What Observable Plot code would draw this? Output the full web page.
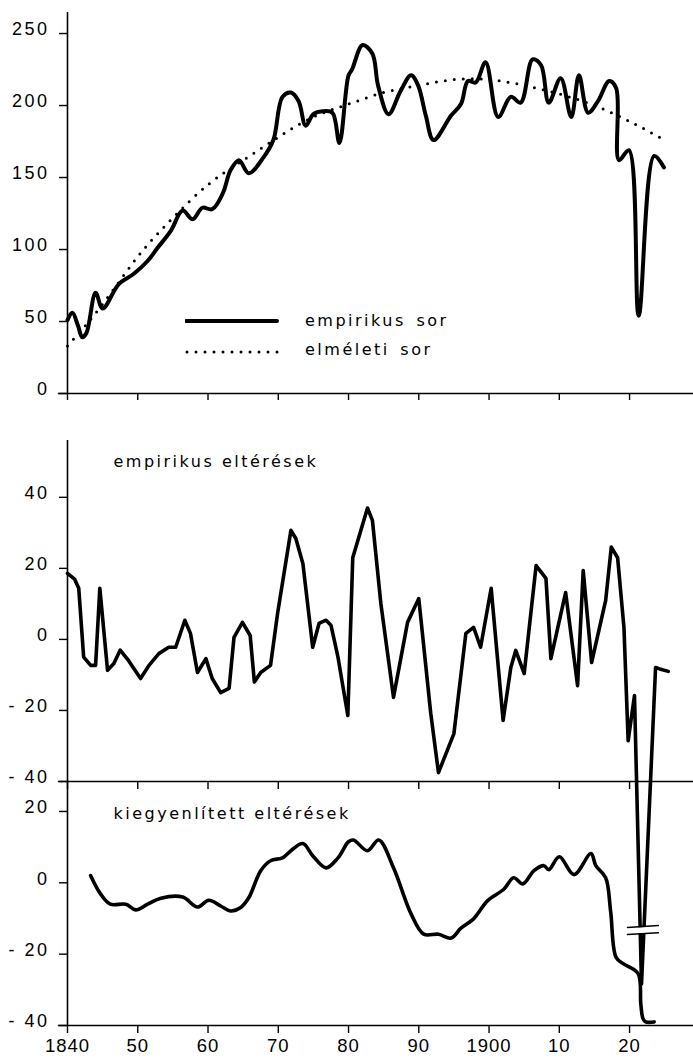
<!DOCTYPE html>
<html><head><meta charset="utf-8">
<script src="https://cdn.jsdelivr.net/npm/d3@7"></script>
<script src="https://cdn.jsdelivr.net/npm/@observablehq/plot@0.6"></script>
<style>
html,body{margin:0;padding:0;background:#fff;}
#wrap{position:relative;width:693px;height:1059px;overflow:hidden;}
#wrap > svg.panel{position:absolute;left:0;top:0;}
#wrap svg text{letter-spacing:2.5px;}
#wrap g[aria-label="x-axis tick label"] text{letter-spacing:1px;}
#wrap g[aria-label="panel title"] text{letter-spacing:3.3px;word-spacing:3px;}
#wrap > svg#legend{position:absolute;left:185px;top:310px;}
#legend text{font-family:"DejaVu Sans",sans-serif;font-size:16px;letter-spacing:3.3px;word-spacing:3px;}
</style>
</head><body><div id="wrap"></div>
<script>
// ---- data ----
const empYears = [1840.0,1840.7,1841.5,1842.1,1842.7,1844.0,1845.0,1847.3,1849.4,1851.4,1852.8,1854.7,1856.4,1857.8,1859.2,1860.6,1862.1,1863.2,1864.4,1865.8,1867.9,1869.3,1870.6,1871.8,1872.9,1873.9,1875.0,1876.3,1877.7,1878.7,1880.0,1880.5,1882.0,1883.4,1884.2,1885.7,1887.4,1888.9,1889.9,1891.0,1892.1,1894.6,1896.0,1897.0,1898.1,1899.5,1901.3,1903.1,1904.5,1906.2,1907.4,1908.5,1910.2,1911.7,1912.8,1914.1,1915.5,1917.1,1918.1,1918.5,1919.9,1921.3,1923.5,1924.9];
const empVals  = [51,56,47,39,42,70,59,76,83,92,101,113,127,121,129,128,139,155,162,153,164,176,206,209,203,186,194,196,195,174,221,225,242,236,214,194,210,221,214,193,176,193,201,217,216,230,192,206,202,232,228,202,219,192,221,195,203,217,212,162,169,54,165,157];

const trendYears = [1840,1845,1850,1855,1860,1865,1870,1875,1880,1885,1890,1895,1900,1905,1910,1915,1920,1925];
const trendVals  = [33,62,95,122,145,162,178,192,201,209,214,218,218,214,208,200,189,176];

const devYears = [1840.0,1841.0,1841.6,1842.3,1843.3,1844.0,1844.6,1845.7,1846.6,1847.5,1848.7,1850.4,1851.6,1853.0,1854.4,1855.4,1856.7,1857.5,1858.5,1859.7,1860.6,1861.8,1863.0,1863.7,1864.9,1866.0,1866.6,1867.5,1868.9,1869.9,1871.8,1872.5,1873.5,1874.9,1875.8,1876.8,1877.5,1878.5,1879.9,1880.6,1882.7,1883.4,1884.6,1886.4,1888.4,1890.0,1891.7,1892.8,1895.0,1896.7,1897.8,1898.8,1900.3,1902.0,1903.1,1903.8,1905.0,1906.7,1908.1,1908.8,1910.9,1912.6,1913.4,1914.6,1916.6,1917.4,1918.3,1919.2,1919.8,1920.7,1921.7,1923.7,1924.3,1925.5];
const devVals  = [18.6,17,14.4,-5,-7.3,-7.3,14.4,-8.7,-6.8,-3,-6,-11,-7.3,-4,-2.2,-2.2,5.4,1.7,-9.3,-5.4,-11,-15,-13.8,0.6,4.8,1.1,-12,-9.3,-7.3,7.3,30.7,28.4,21.4,-2.2,4.5,5.4,4,-5,-21.4,23,37,33.5,10.1,-16.3,4.8,11.5,-20.8,-37.5,-26.5,1.7,3.4,-2.2,14.4,-22.8,-7.9,-3.1,-9.6,20.8,17.2,-5.4,13.2,-13,19.4,-6.5,11,26,23,3.4,-28.5,-15.8,-97,-7.9,-8.3,-9];

const smYears = [1843.3,1844.7,1846.1,1848.3,1849.7,1851.4,1853.3,1856.4,1858.5,1860.1,1861.8,1863.2,1864.6,1865.8,1867.5,1868.9,1870.6,1871.8,1873.5,1874.9,1876.8,1878.5,1880.0,1880.7,1882.7,1884.3,1886.4,1888.9,1890.7,1892.8,1894.6,1896.0,1897.8,1899.8,1902.1,1903.5,1904.8,1906.4,1907.8,1908.5,1910.0,1912.1,1914.5,1915.2,1916.6,1917.3,1918.1,1919.2,1921.2,1921.6,1921.9,1922.3,1923.5];
const smVals  = [2,-3.1,-6,-6,-7.6,-6,-4.3,-4,-6.8,-4.9,-6.5,-7.9,-7,-4.2,3.4,6.2,7,9,11,7.6,4.2,7,11.5,12,9,12,4.2,-8.7,-14.4,-14.4,-15.5,-12.7,-10.1,-5,-1.8,1.4,-0.3,3.4,4.8,3.7,7.3,2.3,8.2,4.8,1.4,-7.9,-21,-22.8,-25.4,-34,-38,-39,-39];

const breakX = [1919.7, 1924.1];
const breakUpper = [-12.5, -12.0];
const breakLower = [-14.5, -14.0];

const xTicks = [1840,1850,1860,1870,1880,1890,1900,1910,1920];
const xTickLabels = ["1840","50","60","70","80","90","1900","10","20"];
const yTicksTop = [0,50,100,150,200,250];
const yLabelsTop = ["0","50","100","150","200","250"];
const yTicksMid = [-40,-20,0,20,40];
const yLabelsMid = ["- 40","- 20","0","20","40"];
const yTicksBot = [-40,-20,0,20];
const yLabelsBot = ["- 40","- 20","0","20"];

const legendLabels = ["empirikus sor","elméleti sor"];
const titleMid = "empirikus eltérések";
const titleBot = "kiegyenlített eltérések";

// ---- build ----
const zip = (xs, ys) => xs.map((x, i) => ({x, y: ys[i]}));
const emp = zip(empYears, empVals), trend = zip(trendYears, trendVals);
const dev = zip(devYears, devVals), sm = zip(smYears, smVals);
const brU = zip(breakX, breakUpper), brL = zip(breakX, breakLower);
const brM = zip(breakX, breakUpper.map((v, i) => (v + breakLower[i]) / 2));
const fmt = (ticks, labels) => { const m = new Map(ticks.map((t, i) => [t, labels[i]])); return d => m.get(d); };

const W = 693, H = 1059, xDomain = [1840, 1929.1], xAxisStart = 1838.7;
const topDomain = [0, 264.6], midDomain = [-40, 56], botDomain = [-40, 28.4];

function panel(marginTop, marginBottom, yDomain, marks) {
  return Plot.plot({
    width: W, height: H, marginLeft: 67, marginRight: 0, marginTop, marginBottom,
    className: "panel",
    x: {domain: xDomain, axis: null}, y: {domain: yDomain, axis: null},
    style: {background: "transparent", overflow: "visible", fontFamily: "Liberation Sans, Arial, sans-serif", fontSize: "18px", color: "#000"},
    marks
  });
}
function yAxis(ticks, labels) {
  return [
    Plot.axisY({ticks, tickSize: 8, fill: "none", strokeWidth: 1.4, label: null}),
    Plot.axisY({ticks, tickSize: 8, tickPadding: 10, stroke: "none", dy: -4, fontSize: 18, tickFormat: fmt(ticks, labels), label: null})
  ];
}
function frameLines(yDomain) {
  return [
    Plot.ruleY([yDomain[0]], {x1: xAxisStart, x2: xDomain[1], strokeWidth: 1.6}),
    Plot.ruleX([xDomain[0]], {y1: yDomain[0], y2: yDomain[1], strokeWidth: 1.6})
  ];
}
const lineStyle = {strokeWidth: 3.6, strokeLinejoin: "round", strokeLinecap: "round"};

const panelTop = panel(12, H - 393, topDomain, [
  ...frameLines(topDomain),
  ...yAxis(yTicksTop, yLabelsTop),
  Plot.axisX({ticks: xTicks, tickSize: 7, fill: "none", strokeWidth: 1.4, label: null}),
  Plot.line(trend, {x: "x", y: "y", curve: "natural", strokeWidth: 3, strokeDasharray: "0 9", strokeLinecap: "round"}),
  Plot.line(emp, {x: "x", y: "y", curve: "catmull-rom", ...lineStyle, strokeWidth: 4})
]);

const panelMid = panel(440, H - 781, midDomain, [
  ...frameLines(midDomain),
  ...yAxis(yTicksMid, yLabelsMid),
  Plot.axisX({ticks: xTicks, tickSize: 8, fill: "none", strokeWidth: 1.4, label: null}),
  Plot.text([titleMid], {frameAnchor: "top-left", text: d => d, dx: 46, dy: 21, textAnchor: "start", lineAnchor: "middle", fontFamily: "DejaVu Sans, sans-serif", fontSize: 16, ariaLabel: "panel title"}),
  Plot.line(dev, {x: "x", y: "y", curve: "linear", ...lineStyle})
]);

const panelBot = panel(781, H - 1025, botDomain, [
  ...frameLines(botDomain),
  ...yAxis(yTicksBot, yLabelsBot),
  Plot.axisX({ticks: xTicks, tickSize: 8, tickPadding: 5, strokeWidth: 1.4, fontSize: 18.5, tickFormat: fmt(xTicks, xTickLabels), label: null}),
  Plot.text([titleBot], {frameAnchor: "top-left", text: d => d, dx: 46, dy: 32, textAnchor: "start", lineAnchor: "middle", fontFamily: "DejaVu Sans, sans-serif", fontSize: 16, ariaLabel: "panel title"}),
  Plot.line(brM, {x: "x", y: "y", stroke: "white", strokeWidth: 6}),
  Plot.line(brU, {x: "x", y: "y", strokeWidth: 1.5}),
  Plot.line(brL, {x: "x", y: "y", strokeWidth: 1.5}),
  Plot.line(sm, {x: "x", y: "y", curve: "catmull-rom", ...lineStyle})
]);

const wrap = document.getElementById("wrap");
wrap.append(panelTop, panelMid, panelBot);

// legend
const ns = "http://www.w3.org/2000/svg";
const lg = document.createElementNS(ns, "svg");
lg.setAttribute("id", "legend"); lg.setAttribute("width", 300); lg.setAttribute("height", 60);
lg.innerHTML = `<line x1="1" y1="11" x2="92" y2="11" stroke="#000" stroke-width="4" stroke-linecap="round"/>
<line x1="2" y1="42" x2="93" y2="42" stroke="#000" stroke-width="3" stroke-dasharray="0 9" stroke-linecap="round"/>
<text x="120" y="16">${legendLabels[0]}</text><text x="120" y="45">${legendLabels[1]}</text>`;
wrap.append(lg);
</script></body></html>
